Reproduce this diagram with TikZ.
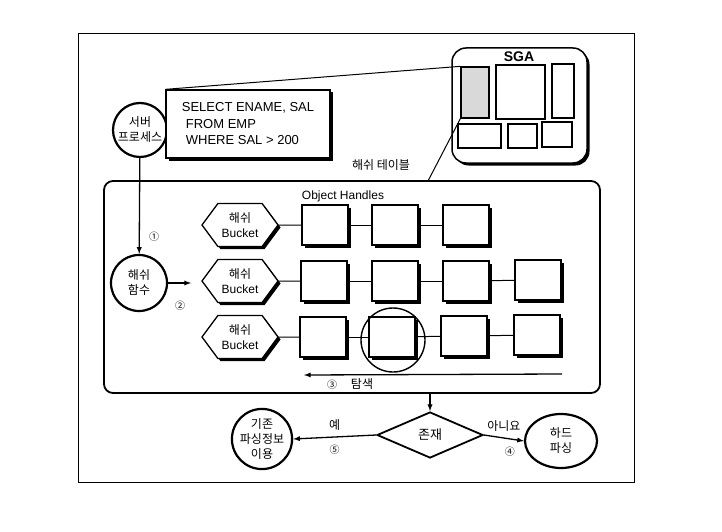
\documentclass[tikz,border=0pt]{standalone}
\usepackage{fontspec}
\setmainfont{Liberation Sans}
\newfontfamily\kr{Noto Sans CJK KR}
\usetikzlibrary{shadows}
\usetikzlibrary{positioning}
\usetikzlibrary{arrows,shapes}
\usetikzlibrary{shapes.geometric,shapes.symbols}
\tikzstyle{proc}=[circle,draw,line width=2.2pt,inner sep=0pt,align=center,font=\kr\fontsize{12}{15}\selectfont]
\tikzstyle{shade}=[drop shadow={shadow xshift=2.5pt,shadow yshift=-2.5pt,fill=black,opacity=1}]
\tikzstyle{handle}=[draw,line width=1.3pt,fill=white,minimum width=46pt,minimum height=40pt,inner sep=0pt,shade]
\tikzstyle{bucket}=[signal,signal to=west and east,signal pointer angle=107,draw,line width=1.3pt,fill=white,minimum width=76pt,minimum height=43pt,inner sep=0pt,align=center,font=\fontsize{12}{15}\selectfont,shade]
\tikzstyle{sgabox}=[draw,line width=1.3pt,inner sep=0pt]
\tikzstyle{edge} = [draw,line width=1.3pt,-latex]
\tikzstyle{link} = [draw,line width=1pt]
\tikzstyle{weight} = [font=\kr\fontsize{12}{14}\selectfont]
\tikzstyle{numtag} = [font=\kr\fontsize{10}{12}\selectfont]

\begin{document}
\begin{tikzpicture}[x=1pt,y=-1pt]
    \useasboundingbox (0,0) rectangle (722,532);

    % frame
    \draw[line width=0.8pt] (78,33) rectangle (634,482);

    % SGA
    \node[draw,rounded corners=14pt,line width=1.5pt,minimum width=135pt,minimum height=115pt,fill=white,shade] (sga) at (519.5,105.5) {};
    \node[font=\bfseries\fontsize{14}{14}\selectfont] (sgatitle) at (519,57) {SGA};
    \foreach \pos/\name/\w/\h in {{(475,92.5)/sg1/28/51}, {(520.5,92)/sg2/49/54}, {(563,91)/sg3/22/54},
                                 {(479.5,136)/sg4/43/24}, {(522.5,136)/sg5/29/24}, {(557,134.5)/sg6/30/25}}
        \node[sgabox,minimum width=\w pt,minimum height=\h pt] (\name) at \pos {};
    \fill[gray!30] ([shift={(1.5pt,-1.5pt)}]sg1.north west) rectangle ([shift={(-1.5pt,1.5pt)}]sg1.south east);

    % query
    \node[proc,minimum size=54pt] (srv) at (140,130) {서버\\프로세스};
    \node[draw,line width=1.3pt,fill=white,minimum width=164pt,minimum height=68pt,align=left,
          font=\fontsize{13}{16.5}\selectfont,shade] (sql) at (248,124)
          {SELECT ENAME, SAL\\\hspace{4pt}FROM EMP\\\hspace{4pt}WHERE SAL \textgreater{} 200};
    \path[link] (sql.north west) -- (sg1.north west);

    % hash table
    \node[draw,rounded corners=9pt,line width=1.8pt,minimum width=496pt,minimum height=212pt] (htable) at (352,287) {};
    \coordinate (tabtop) at (428,181);
    \path[link] (sg1.south west) -- (tabtop);
    \node[weight] (tname) at (381,165) {해쉬 테이블};
    \node[font=\fontsize{12}{12}\selectfont] (ohandles) at (343,196) {Object Handles};

    \foreach \pos/\name in {{(240,225)/B1}, {(240,281)/B2}, {(240,337)/B3}}
        \node[bucket] (\name) at \pos {{\kr 해쉬}\\Bucket};

    \foreach \pos/\name in {{(325,225)/H11}, {(395,225)/H12}, {(466,225)/H13},
                            {(324,281)/H21}, {(395,281)/H22}, {(466,281)/H23}, {(538,280)/H24},
                            {(323,337)/H31}, {(392,337)/H32}, {(464,336)/H33}, {(537,335)/H34}}
        \node[handle] (\name) at \pos {};

    \foreach \source/\dest in {B1/H11, H11/H12, H12/H13,
                               B2/H21, H21/H22, H22/H23, H23/H24,
                               B3/H31, H31/H32, H32/H33, H33/H34}
        \path[link] (\source) -- (\dest);

    \node[circle,draw,line width=1.4pt,minimum size=64pt] (found) at (393,340) {};

    \node[proc,minimum size=56pt] (hfun) at (139,283) {해쉬\\함수};
    \path[edge] (srv) -- (hfun);
    \node[numtag] (n1) at (154,237) {①};
    \coordinate (bin) at (191,283);
    \path[edge] (hfun) -- (bin);
    \node[numtag] (n2) at (180,306) {②};

    \coordinate (s1) at (562,374);
    \coordinate (s2) at (304,375);
    \path[edge] (s1) -- (s2);
    \node[numtag] (n3) at (332,385) {③};
    \node[weight] (search) at (362,384) {탐색};

    % decision
    \node[diamond,draw,line width=1.8pt,aspect=2.3,minimum width=106pt,minimum height=46pt,inner sep=0pt,
          font=\kr\fontsize{13}{13}\selectfont] (exist) at (430,435) {존재};
    \path[edge] (htable.south -| exist.north) -- (exist.north);
    \node[proc,minimum size=60pt] (reuse) at (262,439) {기존\\파싱정보\\이용};
    \node[proc,ellipse,minimum width=72pt,minimum height=54pt] (hard) at (561,441) {하드\\파싱};

    \path[edge] (exist.west) -- node[weight,above=3pt] {예} node[numtag,below=4pt] {⑤} (reuse.east);
    \path[edge] (exist.east) -- node[weight,above=3pt] {아니요} node[numtag,below=5pt,xshift=6pt] {④} (hard.west);

\end{tikzpicture}
\end{document}
